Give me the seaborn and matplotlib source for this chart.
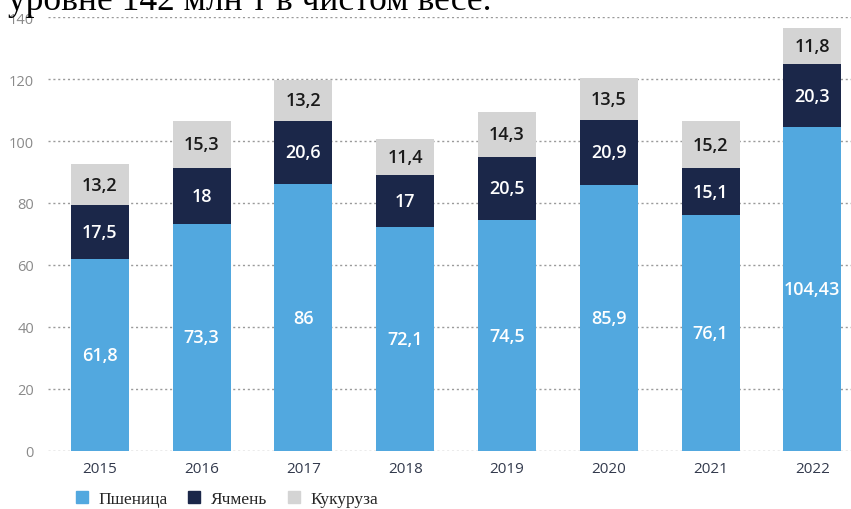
import numpy as np
import pandas as pd
import matplotlib
matplotlib.use("Agg")
import matplotlib.pyplot as plt
import seaborn as sns

years = ["2015", "2016", "2017", "2018", "2019", "2020", "2021", "2022"]
wheat = [61.8, 73.3, 86, 72.1, 74.5, 85.9, 76.1, 104.43]
barley = [17.5, 18, 20.6, 17, 20.5, 20.9, 15.1, 20.3]
corn = [13.2, 15.3, 13.2, 11.4, 14.3, 13.5, 15.2, 11.8]
series_names = ["Пшеница", "Ячмень", "Кукуруза"]
y_ticks = [0, 20, 40, 60, 80, 100, 120, 140]

WHEAT_COLOR = "#52a8df"
BARLEY_COLOR = "#1b2749"
CORN_COLOR = "#d4d4d4"


def fmt(v):
    return f"{v:g}".replace(".", ",")


def main():
    sns.set_theme(style="white")
    plt.rcParams["font.family"] = ["Open Sans", "DejaVu Sans"]

    df = pd.DataFrame({"year": years, "wheat": wheat, "barley": barley, "corn": corn})
    df["wb"] = df["wheat"] + df["barley"]
    df["total"] = df["wb"] + df["corn"]

    fig = plt.figure(figsize=(8.51, 5.10), dpi=100)
    ax = fig.add_axes([48 / 851, 1 - 452 / 510, 803 / 851, 434 / 510])

    # stacked look: draw cumulative totals from the top layer down
    layers = [("total", "corn", CORN_COLOR, "#1a1a1a"),
              ("wb", "barley", BARLEY_COLOR, "white"),
              ("wheat", "wheat", WHEAT_COLOR, "white")]
    for top, part, color, txt in layers:
        sns.barplot(data=df, x="year", y=top, color=color, width=0.57,
                    saturation=1, linewidth=0, ax=ax, zorder=2)

    for container, (top, part, color, txt) in zip(ax.containers, layers):
        for j, patch in enumerate(container.patches):
            xc = patch.get_x() + patch.get_width() / 2
            yc = df[top][j] - df[part][j] / 2
            ax.text(xc, yc, fmt(df[part][j]), ha="center", va="center",
                    color=txt, fontsize=13, fontweight="semibold", zorder=3)

    ax.set_xlim(-0.51, 7.38)
    ax.set_ylim(0, 140)
    ax.set_yticks(y_ticks)
    ax.yaxis.grid(True, ls=(0, (1.5, 2)), color="#9a9a9a", lw=1, zorder=0)
    ax.set_axisbelow(True)
    ax.set_xlabel("")
    ax.set_ylabel("")
    ax.tick_params(axis="y", length=0, labelsize=10.5, labelcolor="#8a8a8a", pad=10)
    ax.tick_params(axis="x", length=0, labelsize=11, labelcolor="#333a4d", pad=7)
    sns.despine(ax=ax, left=True, bottom=True, top=True, right=True)

    handles = [plt.Rectangle((0, 0), 1, 1, color=c) for c in (WHEAT_COLOR, BARLEY_COLOR, CORN_COLOR)]
    fig.legend(handles, series_names, loc="center left", bbox_to_anchor=(60 / 851, 1 - 500 / 510),
               ncol=3, frameon=False, handlelength=0.7, handleheight=0.7, handletextpad=0.6,
               columnspacing=1.2, prop={"family": "Liberation Serif", "size": 12.5})

    fig.text(8 / 851, 1 - 10 / 510, "уровне 142 млн т в чистом весе.", family="Liberation Serif",
             fontsize=25.5, va="baseline", ha="left", color="black")

    fig.savefig("out.png", dpi=100)
    plt.close(fig)


if __name__ == "__main__":
    main()
